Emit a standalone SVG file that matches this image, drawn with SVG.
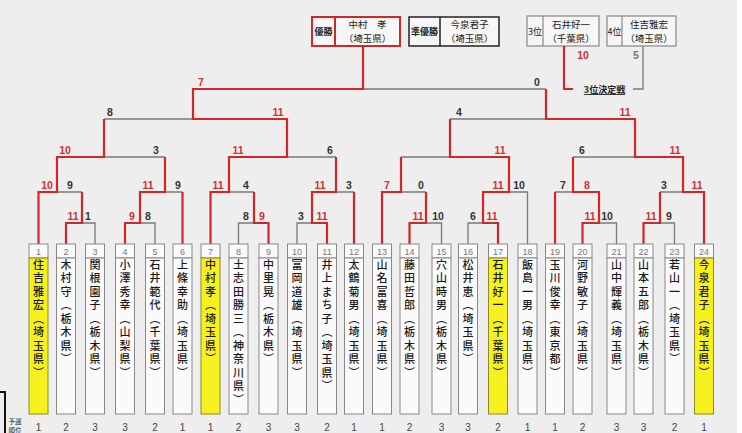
<svg xmlns="http://www.w3.org/2000/svg" width="742" height="433" viewBox="0 0 742 433">
<style>
.r{stroke:#d42626;stroke-width:2.2;fill:none}
.g{stroke:#7a7a7a;stroke-width:1.3;fill:none}
.s{font-family:"Liberation Sans",Arial,sans-serif;font-size:10.5px;font-weight:bold;text-anchor:middle}
.sr{fill:#d43030}
.sd{fill:#333}
.num{fill:#fafafa;stroke:#888;stroke-width:1}
.cell{fill:#fafafa;stroke:#888;stroke-width:1}
.yel{fill:#f6f01e;stroke:#8c8a2a;stroke-width:1}
.nt{font-family:"Liberation Sans",sans-serif;font-size:9px;fill:#777;text-anchor:middle}
.nm{font-family:"Noto Sans CJK JP",sans-serif;font-size:11px;font-weight:500;fill:#1a1a1a;writing-mode:vertical-rl;letter-spacing:2.5px}
.rk{font-family:"Liberation Sans",sans-serif;font-size:10px;fill:#444;text-anchor:middle}
.jp{font-family:"Noto Sans CJK JP",sans-serif;fill:#222;text-anchor:middle}
.bx{font-size:9.5px}
</style>
<rect x="0" y="0" width="742" height="433" fill="#ffffff"/>
<rect x="0" y="0" width="737" height="433" fill="#eeeeee"/>

<g id="champion">
<rect x="312" y="17" width="88" height="29" fill="#f6f6f6" stroke="#d42626" stroke-width="2"/>
<line x1="335" y1="17" x2="335" y2="46" stroke="#d42626" stroke-width="2"/>
<text class="jp" x="323.5" y="35" font-size="9" font-weight="bold">優勝</text>
<text class="jp bx" x="367.5" y="28">中村　孝</text>
<text class="jp bx" x="367.5" y="42">（埼玉県）</text>
</g>
<g id="runnerup">
<rect x="409" y="17" width="90" height="29" fill="#f6f6f6" stroke="#222" stroke-width="1.5"/>
<line x1="440" y1="17" x2="440" y2="46" stroke="#222" stroke-width="1.5"/>
<text class="jp" x="424.5" y="35" font-size="9" font-weight="bold">準優勝</text>
<text class="jp bx" x="469.5" y="28">今泉君子</text>
<text class="jp bx" x="469.5" y="42">（埼玉県）</text>
</g>
<g id="third">
<rect x="527" y="16" width="72" height="30" fill="#f6f6f6" stroke="#888" stroke-width="1.2"/>
<line x1="543" y1="16" x2="543" y2="46" stroke="#888" stroke-width="1.2"/>
<text class="jp" x="535" y="35" font-size="9">3位</text>
<text class="jp bx" x="571" y="28">石井好一</text>
<text class="jp bx" x="571" y="42">（千葉県）</text>
</g>
<g id="fourth">
<rect x="607" y="16" width="69" height="30" fill="#f6f6f6" stroke="#888" stroke-width="1.2"/>
<line x1="622" y1="16" x2="622" y2="46" stroke="#888" stroke-width="1.2"/>
<text class="jp" x="614.5" y="35" font-size="9">4位</text>
<text class="jp bx" x="649" y="28">住吉雅宏</text>
<text class="jp bx" x="649" y="42">（埼玉県）</text>
</g>
<g id="third-place-match">
<text class="jp" x="604.5" y="93" font-size="9" font-weight="bold" text-decoration="underline">3位決定戦</text>
</g>

<g id="connectors">
<path class="g" d="M95,244V223H82 M155,244V223H140 M238.5,244V223H254 M297,244V223H312 M441.5,244V223H426 M468,244V223H483 M527.5,244V192H509 M616.5,244V223H599 M674.5,244V223H660"/>
<path class="g" d="M57,192H82 M165,192H182.5 M229,192H254 M336,192H354 M401,192H426 M555,192H573 M660,192H683"/>
<path class="g" d="M104,157H165 M287,157H336 M401,157H450 M573,157H635"/>
<path class="g" d="M104,119H193 M450,119H546 M363,89H546"/>
<path class="g" d="M633,89H643V46"/>
<path class="r" d="M38.5,244V192H57V157H104V119"/>
<path class="r" d="M66,244V223H82V192"/>
<path class="r" d="M125,244V223H140V192H165V157"/>
<path class="r" d="M182.5,244V192"/>
<path class="r" d="M210.5,244V192H229V157H287V119H193V89H363V46"/>
<path class="r" d="M268.5,244V223H254V192"/>
<path class="r" d="M327,244V223H312V192H336V157"/>
<path class="r" d="M354,244V192"/>
<path class="r" d="M382,244V192H401V157"/>
<path class="r" d="M409.5,244V223H426V192"/>
<path class="r" d="M498,244V223H483V192H509V157H450V119"/>
<path class="r" d="M555,244V192"/>
<path class="r" d="M582.5,244V223H599V192H573V157"/>
<path class="r" d="M643.5,244V223H660V192"/>
<path class="r" d="M704,244V192H683V157H635V119H546V89"/>
<path class="r" d="M564,46V89H573"/>
</g>

<g id="scores">
<text class="s sr" x="583" y="59">10</text>
<text class="s" x="636" y="59" fill="#777">5</text>
<text class="s sr" x="201" y="86">7</text>
<text class="s sd" x="537" y="86">0</text>
<text class="s sd" x="110" y="116">8</text>
<text class="s sr" x="278" y="116">11</text>
<text class="s sd" x="459" y="116">4</text>
<text class="s sr" x="625" y="116">11</text>
<text class="s sr" x="65" y="154">10</text>
<text class="s sd" x="156" y="154">3</text>
<text class="s sr" x="238" y="154">11</text>
<text class="s sd" x="330" y="154">6</text>
<text class="s sr" x="500" y="154">11</text>
<text class="s sd" x="582" y="154">6</text>
<text class="s sr" x="675" y="154">11</text>
<text class="s sr" x="47" y="189">10</text>
<text class="s sd" x="70" y="189">9</text>
<text class="s sr" x="148" y="189">11</text>
<text class="s sd" x="178" y="189">9</text>
<text class="s sr" x="218" y="189">11</text>
<text class="s sd" x="246" y="189">4</text>
<text class="s sr" x="320" y="189">11</text>
<text class="s sd" x="349" y="189">3</text>
<text class="s sr" x="387" y="189">7</text>
<text class="s sd" x="421" y="189">0</text>
<text class="s sr" x="498" y="189">11</text>
<text class="s sd" x="519" y="189">10</text>
<text class="s sd" x="563" y="189">7</text>
<text class="s sr" x="587" y="189">8</text>
<text class="s sd" x="664" y="189">3</text>
<text class="s sr" x="697" y="189">11</text>
<text class="s sr" x="73" y="220">11</text>
<text class="s sd" x="88" y="220">1</text>
<text class="s sr" x="132" y="220">9</text>
<text class="s sd" x="148" y="220">8</text>
<text class="s sd" x="246" y="220">8</text>
<text class="s sr" x="262" y="220">9</text>
<text class="s sd" x="301" y="220">3</text>
<text class="s sr" x="322" y="220">11</text>
<text class="s sr" x="418" y="220">11</text>
<text class="s sd" x="438" y="220">10</text>
<text class="s sd" x="473" y="220">6</text>
<text class="s sr" x="492" y="220">11</text>
<text class="s sr" x="590" y="220">11</text>
<text class="s sd" x="607" y="220">10</text>
<text class="s sr" x="651" y="220">11</text>
<text class="s sd" x="669" y="220">9</text>
</g>

<g id="p1"><rect class="num" x="29" y="244" width="19" height="14"/><rect class="yel" x="29" y="258" width="19" height="156"/><text class="nt" x="38.5" y="255">1</text><text class="nm" x="38.5" y="259">住吉雅宏（埼玉県）</text><text class="rk" x="38.5" y="431">1</text></g>
<g id="p2"><rect class="num" x="56.5" y="244" width="19" height="14"/><rect class="cell" x="56.5" y="258" width="19" height="156"/><text class="nt" x="66" y="255">2</text><text class="nm" x="66" y="259">木村守（栃木県）</text><text class="rk" x="66" y="431">2</text></g>
<g id="p3"><rect class="num" x="85.5" y="244" width="19" height="14"/><rect class="cell" x="85.5" y="258" width="19" height="156"/><text class="nt" x="95" y="255">3</text><text class="nm" x="95" y="259">関根園子（栃木県）</text><text class="rk" x="95" y="431">3</text></g>
<g id="p4"><rect class="num" x="115.5" y="244" width="19" height="14"/><rect class="cell" x="115.5" y="258" width="19" height="156"/><text class="nt" x="125" y="255">4</text><text class="nm" x="125" y="259">小澤秀幸（山梨県）</text><text class="rk" x="125" y="431">3</text></g>
<g id="p5"><rect class="num" x="145.5" y="244" width="19" height="14"/><rect class="cell" x="145.5" y="258" width="19" height="156"/><text class="nt" x="155" y="255">5</text><text class="nm" x="155" y="259">石井範代（千葉県）</text><text class="rk" x="155" y="431">2</text></g>
<g id="p6"><rect class="num" x="173" y="244" width="19" height="14"/><rect class="cell" x="173" y="258" width="19" height="156"/><text class="nt" x="182.5" y="255">6</text><text class="nm" x="182.5" y="259">上條幸助（埼玉県）</text><text class="rk" x="182.5" y="431">1</text></g>
<g id="p7"><rect class="num" x="201" y="244" width="19" height="14"/><rect class="yel" x="201" y="258" width="19" height="156"/><text class="nt" x="210.5" y="255">7</text><text class="nm" x="210.5" y="259">中村孝（埼玉県）</text><text class="rk" x="210.5" y="431">1</text></g>
<g id="p8"><rect class="num" x="229" y="244" width="19" height="14"/><rect class="cell" x="229" y="258" width="19" height="156"/><text class="nt" x="238.5" y="255">8</text><text class="nm" x="238.5" y="259">土志田勝三（神奈川県）</text><text class="rk" x="238.5" y="431">2</text></g>
<g id="p9"><rect class="num" x="259" y="244" width="19" height="14"/><rect class="cell" x="259" y="258" width="19" height="156"/><text class="nt" x="268.5" y="255">9</text><text class="nm" x="268.5" y="259">中里晃（栃木県）</text><text class="rk" x="268.5" y="431">3</text></g>
<g id="p10"><rect class="num" x="287.5" y="244" width="19" height="14"/><rect class="cell" x="287.5" y="258" width="19" height="156"/><text class="nt" x="297" y="255">10</text><text class="nm" x="297" y="259">富岡道雄（埼玉県）</text><text class="rk" x="297" y="431">3</text></g>
<g id="p11"><rect class="num" x="317.5" y="244" width="19" height="14"/><rect class="cell" x="317.5" y="258" width="19" height="156"/><text class="nt" x="327" y="255">11</text><text class="nm" x="327" y="259">井上まち子（埼玉県）</text><text class="rk" x="327" y="431">2</text></g>
<g id="p12"><rect class="num" x="344.5" y="244" width="19" height="14"/><rect class="cell" x="344.5" y="258" width="19" height="156"/><text class="nt" x="354" y="255">12</text><text class="nm" x="354" y="259">太鶴菊男（埼玉県）</text><text class="rk" x="354" y="431">1</text></g>
<g id="p13"><rect class="num" x="372.5" y="244" width="19" height="14"/><rect class="cell" x="372.5" y="258" width="19" height="156"/><text class="nt" x="382" y="255">13</text><text class="nm" x="382" y="259">山名富喜（埼玉県）</text><text class="rk" x="382" y="431">1</text></g>
<g id="p14"><rect class="num" x="400" y="244" width="19" height="14"/><rect class="cell" x="400" y="258" width="19" height="156"/><text class="nt" x="409.5" y="255">14</text><text class="nm" x="409.5" y="259">藤田哲郎（栃木県）</text><text class="rk" x="409.5" y="431">2</text></g>
<g id="p15"><rect class="num" x="432" y="244" width="19" height="14"/><rect class="cell" x="432" y="258" width="19" height="156"/><text class="nt" x="441.5" y="255">15</text><text class="nm" x="441.5" y="259">穴山時男（栃木県）</text><text class="rk" x="441.5" y="431">3</text></g>
<g id="p16"><rect class="num" x="458.5" y="244" width="19" height="14"/><rect class="cell" x="458.5" y="258" width="19" height="156"/><text class="nt" x="468" y="255">16</text><text class="nm" x="468" y="259">松井恵（埼玉県）</text><text class="rk" x="468" y="431">3</text></g>
<g id="p17"><rect class="num" x="488.5" y="244" width="19" height="14"/><rect class="yel" x="488.5" y="258" width="19" height="156"/><text class="nt" x="498" y="255">17</text><text class="nm" x="498" y="259">石井好一（千葉県）</text><text class="rk" x="498" y="431">2</text></g>
<g id="p18"><rect class="num" x="518" y="244" width="19" height="14"/><rect class="cell" x="518" y="258" width="19" height="156"/><text class="nt" x="527.5" y="255">18</text><text class="nm" x="527.5" y="259">飯島一男（埼玉県）</text><text class="rk" x="527.5" y="431">1</text></g>
<g id="p19"><rect class="num" x="545.5" y="244" width="19" height="14"/><rect class="cell" x="545.5" y="258" width="19" height="156"/><text class="nt" x="555" y="255">19</text><text class="nm" x="555" y="259">玉川俊幸（東京都）</text><text class="rk" x="555" y="431">1</text></g>
<g id="p20"><rect class="num" x="573" y="244" width="19" height="14"/><rect class="cell" x="573" y="258" width="19" height="156"/><text class="nt" x="582.5" y="255">20</text><text class="nm" x="582.5" y="259">河野敏子（埼玉県）</text><text class="rk" x="582.5" y="431">2</text></g>
<g id="p21"><rect class="num" x="607" y="244" width="19" height="14"/><rect class="cell" x="607" y="258" width="19" height="156"/><text class="nt" x="616.5" y="255">21</text><text class="nm" x="616.5" y="259">山中輝義（埼玉県）</text><text class="rk" x="616.5" y="431">3</text></g>
<g id="p22"><rect class="num" x="634" y="244" width="19" height="14"/><rect class="cell" x="634" y="258" width="19" height="156"/><text class="nt" x="643.5" y="255">22</text><text class="nm" x="643.5" y="259">山本五郎（栃木県）</text><text class="rk" x="643.5" y="431">3</text></g>
<g id="p23"><rect class="num" x="665" y="244" width="19" height="14"/><rect class="cell" x="665" y="258" width="19" height="156"/><text class="nt" x="674.5" y="255">23</text><text class="nm" x="674.5" y="259">若山一（埼玉県）</text><text class="rk" x="674.5" y="431">2</text></g>
<g id="p24"><rect class="num" x="694.5" y="244" width="19" height="14"/><rect class="yel" x="694.5" y="258" width="19" height="156"/><text class="nt" x="704" y="255">24</text><text class="nm" x="704" y="259">今泉君子（埼玉県）</text><text class="rk" x="704" y="431">1</text></g>

<g id="rank-label">
<path d="M0,392H5V433" fill="none" stroke="#111" stroke-width="2"/>
<text class="jp" x="15" y="424" font-size="6.5">予選</text>
<text class="jp" x="15" y="432.5" font-size="6.5">順位</text>
</g>
</svg>
